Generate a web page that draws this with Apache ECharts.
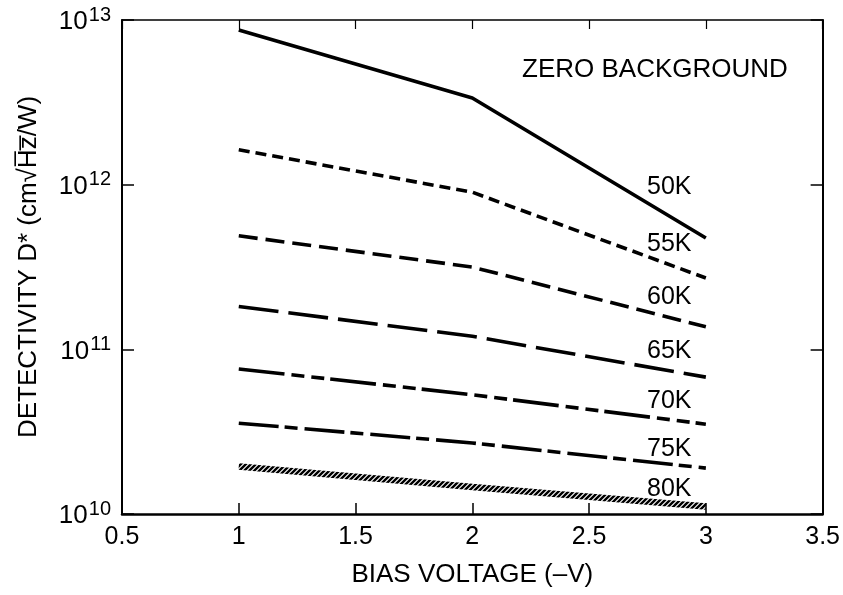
<html lang="en">
  <head>
    <meta charset="UTF-8" />
    <title>Detectivity vs bias voltage</title>
    <style>
      html, body { margin: 0; padding: 0; background: #fff; }
    </style>
  </head>
  <body>
    <div id="main" style="width: 843px; height: 595px"></div>

    <script src="https://cdn.jsdelivr.net/npm/echarts@6/dist/echarts.min.js"></script>
    <script>
      // bias voltage (-V) where each curve was evaluated
      let biasArr = [1, 2, 3]
      let tempArr = ['50K', '55K', '60K', '65K', '70K', '75K', '80K']
      // detectivity D* (cm sqrt(Hz)/W), one list per temperature
      let d50 = [8.7e12, 3.36e12, 4.74e11]
      let d55 = [1.63e12, 9.0e11, 2.71e11]
      let d60 = [4.89e11, 3.16e11, 1.37e11]
      let d65 = [1.82e11, 1.2e11, 6.78e10]
      let d70 = [7.6e10, 5.3e10, 3.51e10]
      let d75 = [3.56e10, 2.7e10, 1.9e10]
      let d80 = [1.94e10, 1.46e10, 1.11e10]
      let xTicks = [0.5, 1, 1.5, 2, 2.5, 3, 3.5]

      let font = '"Liberation Sans", Arial, sans-serif'

      // diagonal hatch used for the 80K curve
      let hatch = document.createElement('canvas')
      hatch.width = 5
      hatch.height = 5
      let hc = hatch.getContext('2d')
      hc.strokeStyle = '#000'
      hc.lineWidth = 2.4
      hc.beginPath()
      hc.moveTo(0, 5); hc.lineTo(5, 0)
      hc.moveTo(-2, 2); hc.lineTo(2, -2)
      hc.moveTo(3, 7); hc.lineTo(7, 3)
      hc.stroke()

      let dashes = [
        'solid',
        [11, 6],
        [19, 8],
        [40, 10],
        [46, 7, 13, 7, 13, 6],
        [40, 6, 13, 7],
        'solid'
      ]
      let values = [d50, d55, d60, d65, d70, d75, d80]

      let series = values.map(function (arr, i) {
        return {
          name: tempArr[i],
          type: 'line',
          symbol: 'none',
          silent: true,
          animation: false,
          data: arr.map(function (v, j) { return [biasArr[j], v] }),
          lineStyle: {
            color: i === 6 ? { image: hatch, repeat: 'repeat' } : '#000',
            width: i === 6 ? 6.5 : 3.6,
            type: dashes[i],
            cap: 'butt'
          }
        }
      })

      // curve labels, placed beside the right ends of the curves
      let labelTop = [187, 244, 297, 351, 401, 449, 489]
      let graphics = tempArr.map(function (t, i) {
        return {
          type: 'text',
          x: 647,
          y: labelTop[i],
          style: { text: t, font: '25px ' + font, fill: '#000', verticalAlign: 'middle' }
        }
      })
      graphics.push({
        type: 'text',
        x: 522,
        y: 70,
        style: { text: 'ZERO BACKGROUND', font: '26px ' + font, fill: '#000', verticalAlign: 'middle' }
      })

      let myChart = echarts.init(document.getElementById('main'))
      let option = {
        backgroundColor: '#fff',
        animation: false,
        grid: { left: 122, right: 18, top: 20, bottom: 81 },
        xAxis: [
          {
            type: 'value',
            min: xTicks[0],
            max: xTicks[xTicks.length - 1],
            interval: 0.5,
            name: 'BIAS VOLTAGE (\u2013V)',
            nameLocation: 'middle',
            nameGap: 48,
            nameTextStyle: { fontFamily: font, fontSize: 26, color: '#000' },
            axisLine: { lineStyle: { color: '#000', width: 2.5 } },
            axisTick: { inside: true, length: 11, lineStyle: { color: '#000', width: 1.5 } },
            axisLabel: { fontFamily: font, fontSize: 25, color: '#000', margin: 11 },
            splitLine: { show: false }
          },
          {
            type: 'value',
            position: 'top',
            min: xTicks[0],
            max: xTicks[xTicks.length - 1],
            interval: 0.5,
            axisLine: { lineStyle: { color: '#000', width: 1.5 } },
            axisTick: { inside: true, length: 9, lineStyle: { color: '#000', width: 1.2 } },
            axisLabel: { show: false },
            splitLine: { show: false }
          }
        ],
        yAxis: [
          {
            type: 'log',
            logBase: 10,
            min: 1e10,
            max: 1e13,
            name: 'DETECTIVITY D* (cm\u221AH\u0305z\u0305/W)',
            nameLocation: 'middle',
            nameGap: 80,
            nameTextStyle: { fontFamily: font, fontSize: 26, color: '#000' },
            axisLine: { lineStyle: { color: '#000', width: 2 } },
            axisTick: { inside: true, length: 12, lineStyle: { color: '#000', width: 1.5 } },
            axisLabel: {
              margin: 11,
              formatter: function (v) {
                return '{b|10}{s|' + Math.round(Math.log10(v)) + '}'
              },
              rich: {
                b: { fontFamily: font, fontSize: 26, color: '#000', lineHeight: 30, verticalAlign: 'bottom' },
                s: { fontFamily: font, fontSize: 20, color: '#000', lineHeight: 30, verticalAlign: 'top', padding: [0, 0, 6, 1] }
              }
            },
            splitLine: { show: false }
          },
          {
            type: 'log',
            logBase: 10,
            min: 1e10,
            max: 1e13,
            position: 'right',
            axisLine: { lineStyle: { color: '#000', width: 2 } },
            axisTick: { inside: true, length: 12, lineStyle: { color: '#000', width: 1.5 } },
            axisLabel: { show: false },
            splitLine: { show: false }
          }
        ],
        graphic: graphics,
        series: series
      }
      myChart.setOption(option)
    </script>
  </body>
</html>
